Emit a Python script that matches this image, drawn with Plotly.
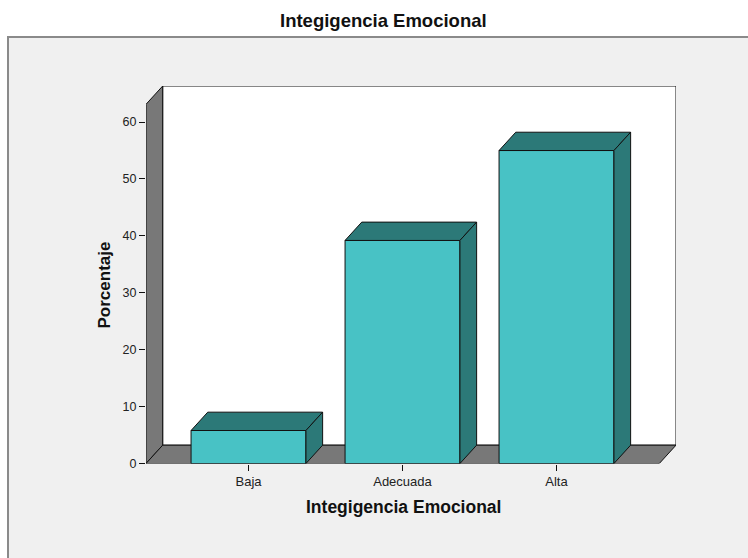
import plotly.graph_objects as go

# ---- data ----
categories = ["Baja", "Adecuada", "Alta"]
percentages = [5.8, 39.2, 55.0]
y_ticks = [0, 10, 20, 30, 40, 50, 60]
chart_title = "Integigencia Emocional"
x_title = "Integigencia Emocional"
y_title = "Porcentaje"

# ---- styling / geometry ----
W, H = 748, 558
FRONT = "#48C2C5"
DARK = "#2C7978"
WALL = "#787878"
BG = "#F0F0F0"
FONT = "Liberation Sans, Arial, sans-serif"

x_min, x_max = -0.6656, 2.776
y_max = 66.34
dx, dy = 0.1084, 3.22
half = 0.373

px_left, px_right = 146, 676
px_bottom, px_top = 463.5, 86

xs = list(range(len(categories)))

fig = go.Figure()

# front faces of bars
fig.add_trace(go.Bar(
    x=xs, y=percentages, width=2 * half,
    marker=dict(color=FRONT, line=dict(color="#111111", width=1)),
    hoverinfo="skip",
))

# top and side faces
for xi, v in zip(xs, percentages):
    fig.add_trace(go.Scatter(
        x=[xi - half, xi - half + dx, xi + half + dx, xi + half, xi - half],
        y=[v, v + dy, v + dy, v, v],
        fill="toself", fillcolor=DARK, mode="lines",
        line=dict(color="#111111", width=1), hoverinfo="skip",
    ))
    fig.add_trace(go.Scatter(
        x=[xi + half, xi + half, xi + half + dx, xi + half + dx, xi + half],
        y=[0, v, v + dy, dy, 0],
        fill="toself", fillcolor=DARK, mode="lines",
        line=dict(color="#111111", width=1), hoverinfo="skip",
    ))

shapes = []
# outer frame
shapes.append(dict(type="rect", xref="paper", yref="paper",
                   x0=8 / W, x1=1.05, y0=-0.05, y1=(H - 37) / H,
                   fillcolor=BG, line=dict(color="#8A8A8A", width=2), layer="below"))
# back wall
shapes.append(dict(type="path", xref="x", yref="y", layer="below",
                   path=f"M {x_min+dx},{dy} L {x_min+dx},{y_max} L {x_max},{y_max} L {x_max},{dy} Z",
                   fillcolor="white", line=dict(color="#111111", width=1)))
# left wall
shapes.append(dict(type="path", xref="x", yref="y", layer="below",
                   path=f"M {x_min},0 L {x_min},{y_max-dy} L {x_min+dx},{y_max} L {x_min+dx},{dy} Z",
                   fillcolor=WALL, line=dict(color="#111111", width=1)))
# floor
shapes.append(dict(type="path", xref="x", yref="y", layer="below",
                   path=f"M {x_min},0 L {x_max-dx},0 L {x_max},{dy} L {x_min+dx},{dy} Z",
                   fillcolor=WALL, line=dict(color="#111111", width=1)))

annotations = [
    dict(text=f"<b>{chart_title}</b>", xref="paper", yref="paper", x=383.5 / W, y=(H - 21) / H,
         showarrow=False, font=dict(family=FONT, size=18.5, color="#111111"),
         xanchor="center", yanchor="middle"),
    dict(text=f"<b>{x_title}</b>", xref="paper", yref="paper", x=403.5 / W, y=(H - 507) / H,
         showarrow=False, font=dict(family=FONT, size=17.5, color="#111111"),
         xanchor="center", yanchor="middle"),
    dict(text=f"<b>{y_title}</b>", xref="paper", yref="paper", x=103.5 / W, y=(H - 285) / H,
         showarrow=False, textangle=-90, font=dict(family=FONT, size=17, color="#111111"),
         xanchor="center", yanchor="middle"),
]

fig.update_layout(
    width=W, height=H, autosize=False,
    margin=dict(l=0, r=0, t=0, b=0, pad=0),
    paper_bgcolor="white", plot_bgcolor="rgba(0,0,0,0)",
    showlegend=False, hovermode=False,
    shapes=shapes, annotations=annotations,
    xaxis=dict(domain=[px_left / W, px_right / W], range=[x_min, x_max], automargin=False,
               tickvals=xs, ticktext=categories, ticks="outside", ticklen=6,
               tickcolor="#111111", showgrid=False, zeroline=False, showline=False,
               tickfont=dict(family=FONT, size=13, color="#222222")),
    yaxis=dict(domain=[(H - px_bottom) / H, (H - px_top) / H], range=[0, y_max], automargin=False,
               tickvals=y_ticks, ticks="outside", ticklen=6,
               tickcolor="#111111", showgrid=False, zeroline=False, showline=False,
               tickfont=dict(family=FONT, size=12.5, color="#222222")),
)

fig.write_html("out.html", config={"responsive": False, "displayModeBar": False},
               post_script="document.body.style.margin='0';document.body.style.overflow='hidden';")
